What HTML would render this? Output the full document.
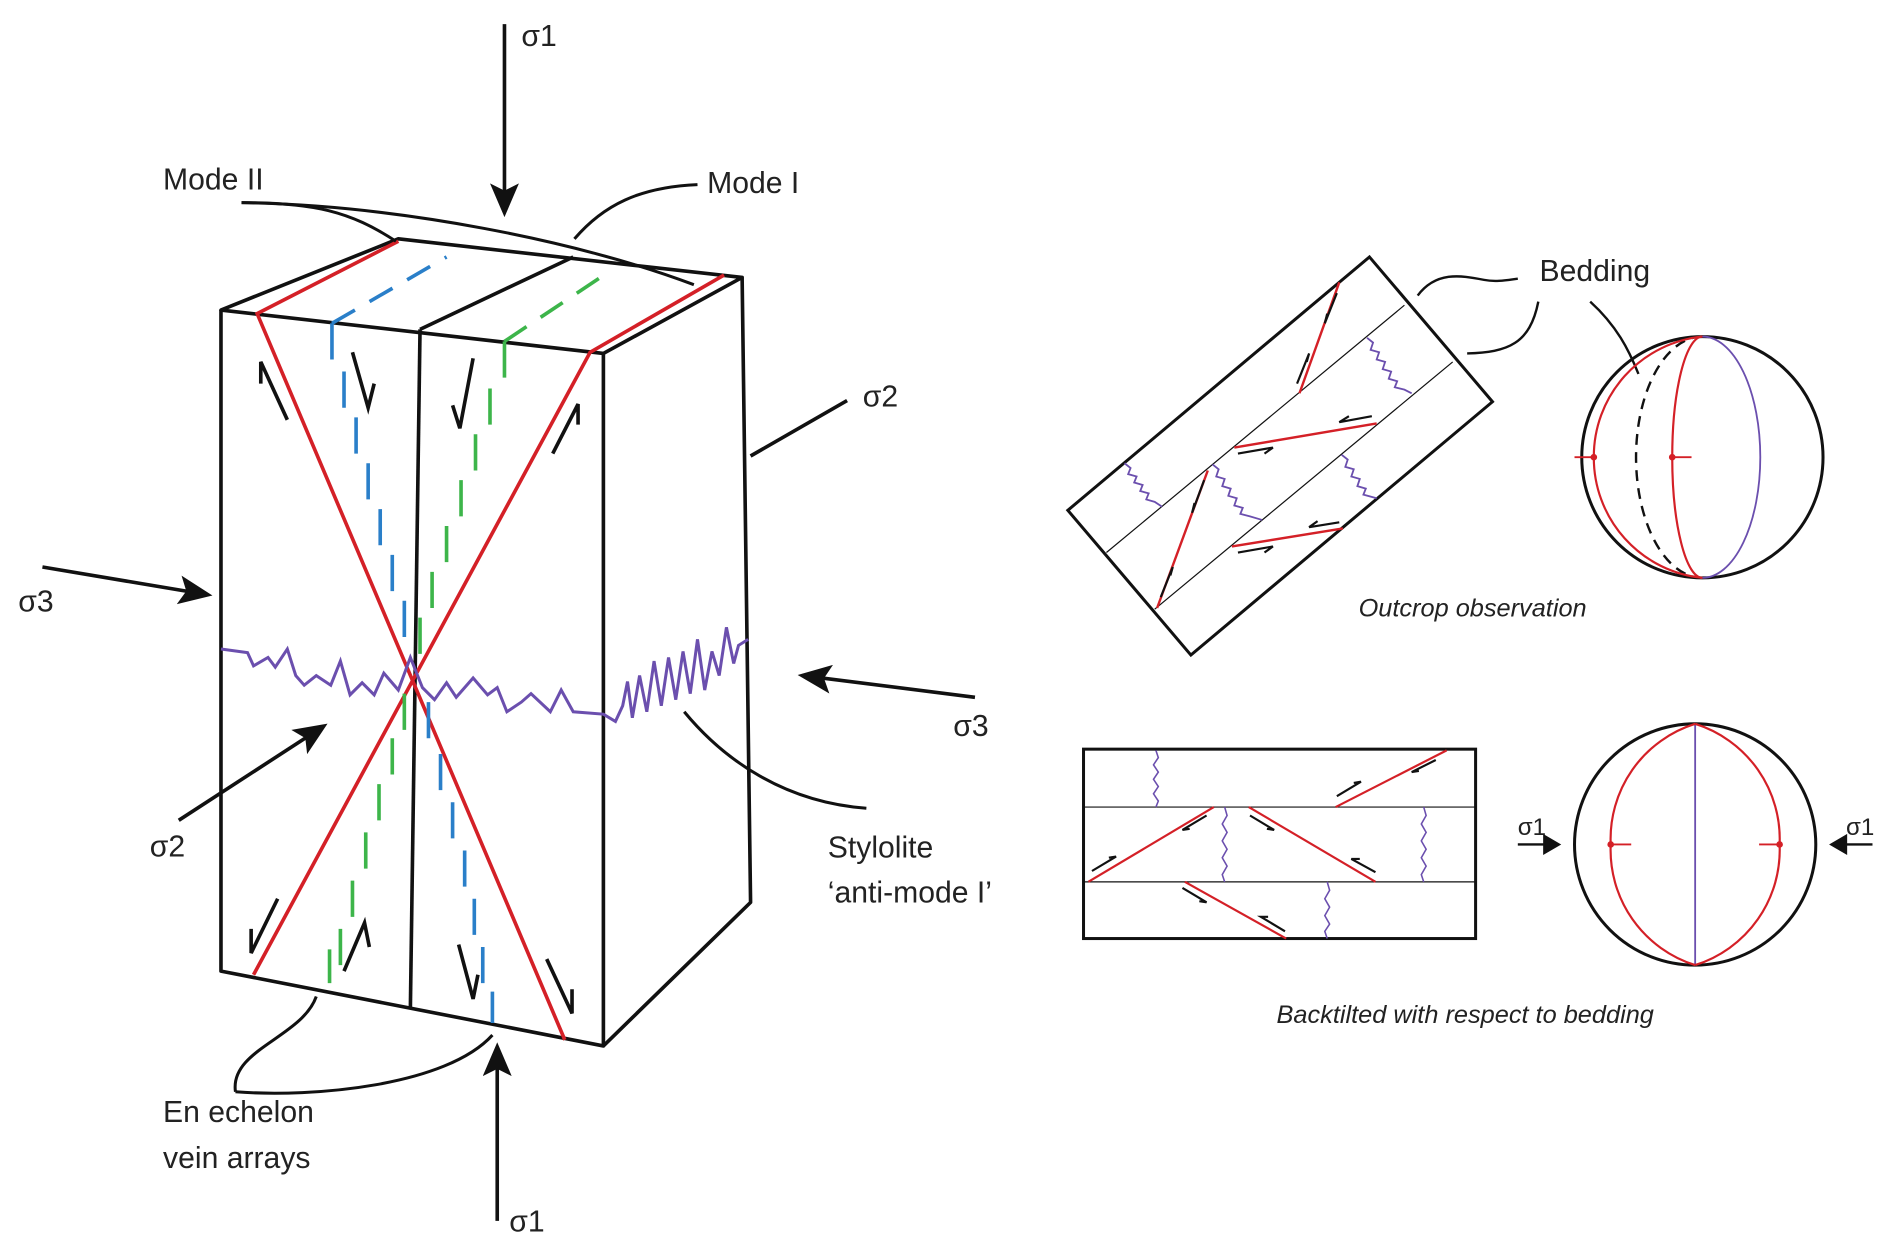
<!DOCTYPE html>
<html><head><meta charset="utf-8"><style>
html,body{margin:0;padding:0;background:#fff;}
svg{display:block;}
text{font-family:"Liberation Sans","DejaVu Sans",sans-serif;fill:#222;}
</style></head><body>
<svg width="1892" height="1251" viewBox="0 0 1568 1037" xmlns="http://www.w3.org/2000/svg">
<defs>
<marker id="ah" markerWidth="28" markerHeight="24" refX="24" refY="12" orient="auto" markerUnits="userSpaceOnUse" viewBox="0 0 28 24"><path d="M0,0 L28,12 L0,24 L6,12 Z" fill="#111"/></marker>
</defs>
<g fill="none" stroke="#111" stroke-width="3" stroke-linejoin="round">
<polygon points="183,257 330,198 615,230 500,293"/>
<polyline points="183,257 183,805 500,867 500,293"/>
<polyline points="615,230 622,748 500,867"/>
<line x1="348" y1="273" x2="340" y2="836"/>
<line x1="348" y1="273" x2="475" y2="213"/>
</g>
<g stroke="#d42027" stroke-width="3" fill="none">
<polyline points="330,200 213,260 468,862"/>
<polyline points="600,228 489,292 210,808"/>
</g>
<g stroke="#2a7fc9" stroke-width="3" fill="none">
<line x1="275" y1="268" x2="370" y2="213" stroke-dasharray="22,14"/>
<path d="M275,268V298 M285,308V338 M295,346V376 M305,384V414 M315,422V452 M325,460V490 M335,498V528 M355,582V612 M365,625V655 M375,665V695 M385,705V735 M393,745V775 M400,785V815 M408,822V848"/>
</g>
<g stroke="#3db54a" stroke-width="3" fill="none">
<line x1="418" y1="283" x2="505" y2="225" stroke-dasharray="22,14"/>
<path d="M418,283V313 M406,322V352 M394,360V390 M382,398V428 M370,436V466 M358,474V504 M348,512V542 M335,575V605 M325,612V642 M314,650V680 M303,690V720 M292,730V760 M282,770V800 M273,787V815"/>
</g>
<polyline fill="none" stroke="#6b4fae" stroke-width="2.5" points="183,538 205,541 210,552 222,545 228,553 238,538 245,560 252,568 262,560 274,568 282,548 290,576 300,566 310,576 318,558 330,572 340,545 350,570 360,580 370,566 378,578 392,562 404,576 412,570 420,590 432,582 440,575 456,590 465,572 475,590 500,592 510,598 516,585 520,565 524,595 530,560 536,590 542,548 548,585 554,545 560,580 566,540 572,575 578,530 584,572 590,540 596,560 602,520 608,550 612,535 620,530"/>
<g stroke="#111" stroke-width="3" fill="none">
<polyline points="238,348 216,300 216,318"/>
<polyline points="292,292 305,338 310,318"/>
<polyline points="392,297 381,355 375,336"/>
<polyline points="458,376 479,335 479,352"/>
<polyline points="230,745 208,790 208,770"/>
<polyline points="285,805 302,765 306,785"/>
<polyline points="380,783 392,828 396,808"/>
<polyline points="453,795 474,840 474,820"/>
</g>
<g stroke="#111" stroke-width="3" fill="none">
<line x1="418" y1="20" x2="418" y2="176" marker-end="url(#ah)"/>
<line x1="412" y1="1012" x2="412" y2="868" marker-end="url(#ah)"/>
<line x1="35" y1="470" x2="172" y2="493" marker-end="url(#ah)"/>
<line x1="808" y1="578" x2="665" y2="560" marker-end="url(#ah)"/>
<line x1="148" y1="680" x2="268" y2="602" marker-end="url(#ah)"/>
<line x1="622" y1="378" x2="702" y2="332"/>
</g>
<g stroke="#111" stroke-width="2.5" fill="none">
<path d="M200,168 C260,168 290,175 328,200"/>
<path d="M200,168 C330,170 480,200 575,236"/>
<path d="M578,153 C530,155 500,170 476,198"/>
<path d="M718,670 C650,665 600,630 567,590"/>
<path d="M195,905 C190,870 250,860 262,826"/>
<path d="M195,905 C260,910 370,900 408,858"/>
</g>
<g font-size="25">
<text x="432" y="38">σ1</text>
<text x="135" y="157">Mode II</text>
<text x="586" y="160">Mode I</text>
<text x="715" y="337">σ2</text>
<text x="15" y="507">σ3</text>
<text x="790" y="610">σ3</text>
<text x="124" y="710">σ2</text>
<text x="686" y="711">Stylolite</text>
<text x="686" y="748">‘anti-mode I’</text>
<text x="135" y="930">En echelon</text>
<text x="135" y="968">vein arrays</text>
<text x="422" y="1021">σ1</text>
<text x="1276" y="233">Bedding</text>
</g>
<g font-size="21" font-style="italic">
<text x="1126" y="511">Outcrop observation</text>
<text x="1058" y="848">Backtilted with respect to bedding</text>
</g>
<g fill="none" stroke="#111">
<polygon points="885,423 1135,213 1237,333 987,543" stroke-width="2.5"/>
<line x1="917" y1="458" x2="1164" y2="253" stroke-width="1"/>
<line x1="957" y1="505" x2="1204" y2="300" stroke-width="1"/>
<path d="M1175,245 C1190,225 1210,228 1230,232 C1240,234 1250,232 1258,231" stroke-width="2"/>
<path d="M1216,293 C1250,292 1268,285 1275,250" stroke-width="2"/>
<path d="M1318,250 C1340,270 1350,290 1358,310" stroke-width="2"/>
</g>
<g stroke="#d42027" stroke-width="2" fill="none">
<line x1="1077" y1="326" x2="1110" y2="234"/>
<line x1="1023" y1="371" x2="1141" y2="351"/>
<line x1="959" y1="504" x2="1001" y2="390"/>
<line x1="1021" y1="453" x2="1113" y2="438"/>
</g>
<g stroke="#111" stroke-width="1.8" fill="none">
<polyline points="1108,243 1098,268 1100,260"/><polyline points="1075,318 1085,293 1083,300"/>
<polyline points="1137,345 1110,350 1118,345"/><polyline points="1026,376 1055,371 1048,376"/>
<polyline points="998,398 988,425 990,417"/><polyline points="962,495 972,470 970,477"/>
<polyline points="1110,433 1085,437 1092,432"/><polyline points="1026,458 1055,453 1048,458"/>
</g>
<g stroke="#6b4fae" stroke-width="1.5" fill="none">
<polyline points="932,384 937,388 935,393 942,395 940,400 947,402 945,407 952,409 950,414 957,416 963,420"/>
<polyline points="1133,280 1138,284 1136,290 1143,292 1141,298 1148,300 1146,306 1153,308 1151,314 1158,316 1156,321 1164,323 1170,326"/>
<polyline points="1005,385 1010,389 1008,395 1015,397 1013,403 1020,405 1018,411 1025,413 1023,419 1030,421 1028,426 1036,428 1046,431"/>
<polyline points="1112,377 1117,381 1115,387 1122,389 1120,395 1127,397 1125,403 1132,405 1130,410 1141,413"/>
</g>
<circle cx="1411" cy="379" r="100" fill="none" stroke="#111" stroke-width="2.5"/>
<path d="M1411,279 A55,100 0 0 0 1411,479" fill="none" stroke="#111" stroke-width="2" stroke-dasharray="9,6"/>
<path d="M1411,279 A48,100 0 0 1 1411,479" fill="none" stroke="#6b4fae" stroke-width="1.5"/>
<path d="M1411,279 A25,100 0 0 0 1411,479" fill="none" stroke="#d42027" stroke-width="1.8"/>
<path d="M1411,279 A100,100 0 0 0 1321,379 A100,100 0 0 0 1411,479" fill="none" stroke="#d42027" stroke-width="1.8"/>
<g stroke="#d42027" stroke-width="1.5" fill="#d42027">
<line x1="1305" y1="379" x2="1321" y2="379"/><circle cx="1321" cy="379" r="2"/>
<line x1="1386" y1="379" x2="1402" y2="379"/><circle cx="1386" cy="379" r="2"/>
</g>
<g fill="none" stroke="#111">
<rect x="898" y="621" width="325" height="157" stroke-width="2.5"/>
<line x1="898" y1="669" x2="1223" y2="669" stroke-width="1"/>
<line x1="898" y1="731" x2="1223" y2="731" stroke-width="1"/>
</g>
<g stroke="#d42027" stroke-width="1.8">
<line x1="1107" y1="669" x2="1199" y2="622"/>
<line x1="902" y1="731" x2="1006" y2="669"/>
<line x1="1035" y1="669" x2="1140" y2="731"/>
<line x1="982" y1="731" x2="1066" y2="778"/>
</g>
<g stroke="#111" stroke-width="1.8" fill="none">
<polyline points="1108,660 1128,648 1122,649"/><polyline points="1190,630 1170,640 1176,639"/>
<polyline points="905,722 925,710 919,711"/><polyline points="1000,676 980,688 986,687"/>
<polyline points="1036,676 1056,688 1050,687"/><polyline points="1140,723 1120,712 1127,712"/>
<polyline points="980,736 1000,748 994,747"/><polyline points="1065,772 1045,760 1051,760"/>
</g>
<g stroke="#6b4fae" stroke-width="1.3" fill="none">
<polyline points="958,622 960,628 956,634 960,640 956,646 960,652 956,658 960,664 958,669"/>
<polyline points="1015,669 1017,676 1013,683 1017,690 1013,697 1017,704 1013,711 1017,718 1013,725 1015,731"/>
<polyline points="1180,669 1182,676 1178,683 1182,690 1178,697 1182,704 1178,711 1182,718 1178,725 1180,731"/>
<polyline points="1100,731 1102,738 1098,745 1102,752 1098,759 1102,766 1098,772 1100,778"/>
</g>
<circle cx="1405" cy="700" r="100" fill="none" stroke="#111" stroke-width="2.5"/>
<line x1="1405" y1="600" x2="1405" y2="800" stroke="#6b4fae" stroke-width="1.5"/>
<path d="M1405,600 A100,100 0 0 0 1335,700 A100,100 0 0 0 1405,800" fill="none" stroke="#d42027" stroke-width="1.8"/>
<path d="M1405,600 A100,100 0 0 1 1475,700 A100,100 0 0 1 1405,800" fill="none" stroke="#d42027" stroke-width="1.8"/>
<g stroke="#d42027" stroke-width="1.5" fill="#d42027">
<line x1="1335" y1="700" x2="1352" y2="700"/><circle cx="1335" cy="700" r="2"/>
<line x1="1458" y1="700" x2="1475" y2="700"/><circle cx="1475" cy="700" r="2"/>
</g>
<g stroke="#111" stroke-width="2" fill="#111">
<line x1="1258" y1="700" x2="1280" y2="700"/><path d="M1280,693 L1292,700 L1280,707 Z"/>
<line x1="1552" y1="700" x2="1530" y2="700"/><path d="M1530,693 L1518,700 L1530,707 Z"/>
</g>
<text x="1258" y="692" font-size="20">σ1</text>
<text x="1530" y="692" font-size="20">σ1</text>
</svg>
</body></html>
